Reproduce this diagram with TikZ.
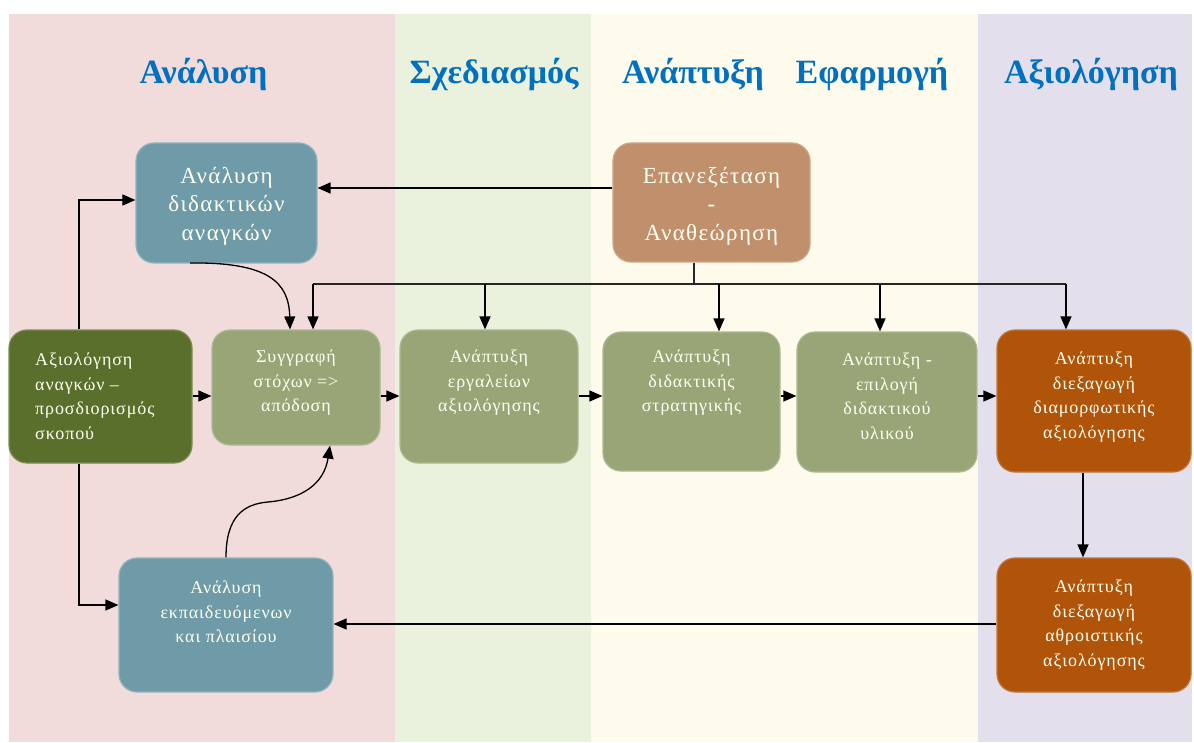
\documentclass[tikz,border=0pt]{standalone}
\usepackage{fontspec}
\setmainfont{Liberation Serif}
\newfontfamily\boxfont[LetterSpace=5]{Liberation Serif}
\newfontfamily\bigboxfont[LetterSpace=6]{Liberation Serif}
\usetikzlibrary{arrows.meta}
\definecolor{bandpink}{HTML}{F2DCDB}
\definecolor{bandgreen}{HTML}{EAF1DD}
\definecolor{bandyellow}{HTML}{FEFBEC}
\definecolor{bandpurple}{HTML}{E4DFEC}
\definecolor{headblue}{HTML}{0070C0}
\definecolor{boxteal}{HTML}{6E9BA7}
\definecolor{boxdkgreen}{HTML}{5B6F2D}
\definecolor{boxsage}{HTML}{98A677}
\definecolor{boxbrown}{HTML}{C0906C}
\definecolor{boxorange}{HTML}{B0540A}
\definecolor{ivory}{HTML}{FFFFF2}
\tikzset{
  head/.style={text=headblue, anchor=base, font=\fontsize{34}{40}\selectfont\bfseries},
  box/.style={rounded corners=18pt, line width=1.2pt, inner sep=0pt, anchor=center},
  tealbox/.style={box, fill=boxteal, draw=boxteal!75!white},
  dkbox/.style={box, fill=boxdkgreen, draw=boxdkgreen!80!white},
  sagebox/.style={box, fill=boxsage, draw=boxsage!80!white},
  brownbox/.style={box, fill=boxbrown, draw=boxbrown!80!white},
  orbox/.style={box, fill=boxorange, draw=boxorange!80!white},
  txt/.style={text=ivory, align=center, inner sep=0pt, font=\boxfont\fontsize{18}{24.5}\selectfont},
  bigtxt/.style={text=ivory, align=center, inner sep=0pt, font=\bigboxfont\fontsize{23}{28.5}\selectfont},
  arr/.style={draw=black, line width=1.3pt, -{Triangle[length=13pt,width=11pt]}},
  ln/.style={draw=black!85, line width=1.3pt},
}
\begin{document}
\begin{tikzpicture}[x=1pt,y=-1pt]
\useasboundingbox (0,0) rectangle (1194,743);
\fill[white] (0,0) rectangle (1194,743);
% bands
\fill[bandpink] (9,14) rectangle (395,742);
\fill[bandgreen] (395,14) rectangle (591,742);
\fill[bandyellow] (591,14) rectangle (978,742);
\fill[bandpurple] (978,14) rectangle (1192,742);
% headers
\node[head] (h1) at (203.5,84) {Ανάλυση};
\node[head] (h2) at (494,84) {Σχεδιασμός};
\node[head] (h3) at (693,84) {Ανάπτυξη};
\node[head] (h4) at (872,84) {Εφαρμογή};
\node[head] (h5) at (1091,84) {Αξιολόγηση};
% boxes
\node[tealbox, minimum width=181pt, minimum height=120pt] (b1) at (226.5,203) {};
\node[bigtxt] (b1t) at (226.5,206) {Ανάλυση\\διδακτικών\\αναγκών};
\node[brownbox, minimum width=197pt, minimum height=119pt] (rev) at (711.5,202.5) {};
\node[bigtxt] (revt) at (711.5,206) {Επανεξέταση\\-\\Αναθεώρηση};
\node[dkbox, minimum width=183pt, minimum height=133pt] (need) at (100.5,396.5) {};
\node[txt, align=left, anchor=west] (needt) at (35,396) {Αξιολόγηση\\αναγκών –\\προσδιορισμός\\σκοπού};
\node[sagebox, minimum width=168pt, minimum height=115pt] (goal) at (296,387.5) {};
\node[txt] (goalt) at (296,383) {Συγγραφή\\στόχων =>\\απόδοση};
\node[sagebox, minimum width=178pt, minimum height=133pt] (tools) at (489,396.5) {};
\node[txt] (toolst) at (489,383) {Ανάπτυξη\\εργαλείων\\αξιολόγησης};
\node[sagebox, minimum width=177pt, minimum height=139pt] (strat) at (691.5,401.5) {};
\node[txt] (stratt) at (691.5,383) {Ανάπτυξη\\διδακτικής\\στρατηγικής};
\node[sagebox, minimum width=180pt, minimum height=140pt] (mat) at (887,402) {};
\node[txt] (matt) at (887,396) {Ανάπτυξη -\\επιλογή\\διδακτικού\\υλικού};
\node[orbox, minimum width=194pt, minimum height=142pt] (form) at (1094,401) {};
\node[txt] (formt) at (1094,397) {Ανάπτυξη\\διεξαγωγή\\διαμορφωτικής\\αξιολόγησης};
\node[orbox, minimum width=194pt, minimum height=134pt] (summ) at (1094,625) {};
\node[txt] (summt) at (1094,625) {Ανάπτυξη\\διεξαγωγή\\αθροιστικής\\αξιολόγησης};
\node[tealbox, minimum width=214pt, minimum height=134pt] (learn) at (226,625) {};
\node[txt] (learnt) at (226,612) {Ανάλυση\\εκπαιδευόμενων\\και πλαισίου};
% helper coordinates
\coordinate (lx) at (79,0);
\coordinate (ly1) at (0,200);
\coordinate (ly2) at (0,605);
\coordinate (ly3) at (0,624);
\coordinate (ry) at (0,188);
\coordinate (fy) at (0,396);
\coordinate (fx) at (1083,0);
\coordinate (busL) at (313,284);
\coordinate (busR) at (1066,284);
\coordinate (busM) at (694,284);
\coordinate (d2) at (485,284);
\coordinate (d3) at (719,284);
\coordinate (d4) at (880,284);
\coordinate (c1s) at (190,263);
\coordinate (c1e) at (290,0);
\coordinate (c2s) at (226,0);
\coordinate (c2e) at (330,0);
% connectors
\draw[arr] (lx |- need.north) |- (b1.west |- ly1);
\draw[arr] (lx |- need.south) |- (learn.west |- ly2);
\draw[arr] (need.east |- fy) -- (goal.west |- fy);
\draw[arr] (goal.east |- fy) -- (tools.west |- fy);
\draw[arr] (tools.east |- fy) -- (strat.west |- fy);
\draw[arr] (strat.east |- fy) -- (mat.west |- fy);
\draw[arr] (mat.east |- fy) -- (form.west |- fy);
\draw[arr] (fx |- form.south) -- (fx |- summ.north);
\draw[arr] (summ.west |- ly3) -- (learn.east |- ly3);
\draw[arr] (rev.west |- ry) -- (b1.east |- ry);
\draw[ln] (busM |- rev.south) -- (busM);
\draw[ln] (busL) -- (busR);
\draw[arr] (busL) -- (busL |- goal.north);
\draw[arr] (d2) -- (d2 |- tools.north);
\draw[arr] (d3) -- (d3 |- strat.north);
\draw[arr] (d4) -- (d4 |- mat.north);
\draw[arr] (busR) -- (busR |- form.north);
\draw[arr] (c1s) .. controls (268,262) and (289,282) .. (c1e |- goal.north);
\draw[arr] (c2s |- learn.north) .. controls (226,515) and (245,504) .. (268,502) .. controls (302,499) and (324,484) .. (c2e |- goal.south);
\end{tikzpicture}
\end{document}
